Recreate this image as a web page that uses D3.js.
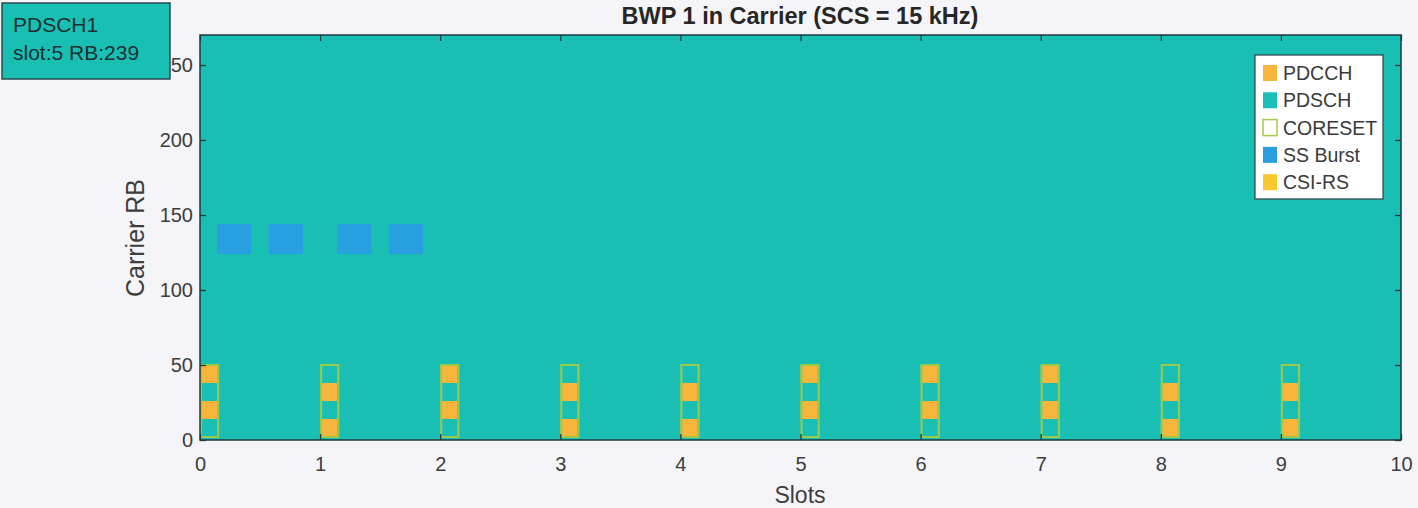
<!DOCTYPE html>
<html>
<head>
<meta charset="utf-8">
<script src="https://cdn.jsdelivr.net/npm/d3@7"></script>
<style>
  html, body { margin: 0; padding: 0; background: #f5f4f8; }
  svg { display: block; }
  text { font-family: "Liberation Sans", Arial, sans-serif; }
</style>
</head>
<body>
<svg id="chart" width="1418" height="508"></svg>
<script>
// ---------------- data ----------------
const slotTicks = [0, 1, 2, 3, 4, 5, 6, 7, 8, 9, 10];
const rbTicks = [0, 50, 100, 150, 200, 250];
const numSlots = 10;
const symbolsPerSlot = 14;
const carrierRB = 270;

// CORESET: first 2 symbols of every slot, RB 2..50
const coresetSlots = [0, 1, 2, 3, 4, 5, 6, 7, 8, 9];
const coresetSymbols = 2;
const coresetRB = [2, 50];

// PDCCH candidates (12 RB each) : slot index, starting RB
const pdcchSlot = [0, 0, 1, 1, 2, 2, 3, 3, 4, 4, 5, 5, 6, 6, 7, 7, 8, 8, 9, 9];
const pdcchRBStart = [14, 38, 2, 26, 14, 38, 2, 26, 2, 26, 14, 38, 14, 38, 14, 38, 2, 26, 2, 26];
const pdcchRBLen = 12;

// SS burst: start symbols (absolute), 4 symbols each, RB 124..144
const ssbStartSymbol = [2, 8, 16, 22];
const ssbSymbols = 4;
const ssbRB = [124, 144];

const legendLabels = ["PDCCH", "PDSCH", "CORESET", "SS Burst", "CSI-RS"];
const legendColors = ["#f7b53b", "#1cbfb5", "#ffffff", "#28a0e0", "#f8c92c"];
const legendStrokes = ["none", "none", "#a6c84c", "none", "none"];

const tooltipLines = ["PDSCH1", "slot:5 RB:239"];
const titleText = "BWP 1 in Carrier (SCS = 15 kHz)";

// ---------------- drawing ----------------
const svg = d3.select("#chart");
const m = { left: 200, right: 1401, top: 35, bottom: 440 };
const teal = "#1abfb4";

const x = d3.scaleLinear().domain([0, numSlots]).range([m.left, m.right]);
const y = d3.scaleLinear().domain([0, carrierRB]).range([m.bottom, m.top]);
const xs = s => x(s / symbolsPerSlot);

// plot background (PDSCH)
svg.append("rect")
  .attr("x", m.left).attr("y", m.top)
  .attr("width", m.right - m.left).attr("height", m.bottom - m.top)
  .attr("fill", teal);

// SS burst
svg.append("g").selectAll("rect").data(ssbStartSymbol).join("rect")
  .attr("x", d => xs(d))
  .attr("width", d => xs(d + ssbSymbols) - xs(d))
  .attr("y", y(ssbRB[1]))
  .attr("height", y(ssbRB[0]) - y(ssbRB[1]))
  .attr("fill", "#28a0e0");

// PDCCH
svg.append("g").selectAll("rect").data(pdcchSlot.map((s, i) => ({ s, rb: pdcchRBStart[i] }))).join("rect")
  .attr("x", d => x(d.s))
  .attr("width", d => xs(d.s * symbolsPerSlot + coresetSymbols) - x(d.s))
  .attr("y", d => y(d.rb + pdcchRBLen))
  .attr("height", d => y(d.rb) - y(d.rb + pdcchRBLen))
  .attr("fill", "#f7b53b");

// CORESET outlines
svg.append("g").selectAll("rect").data(coresetSlots).join("rect")
  .attr("x", d => x(d) + 1)
  .attr("width", d => xs(d * symbolsPerSlot + coresetSymbols) - x(d))
  .attr("y", y(coresetRB[1]))
  .attr("height", y(coresetRB[0]) - y(coresetRB[1]))
  .attr("fill", "none")
  .attr("stroke", "#9bc94a")
  .attr("stroke-width", 2);

// axes with inward ticks
const tickColor = "#22383c";
const labelColor = "#3d3d3d";
function styleAxis(g) {
  g.select(".domain").remove();
  g.selectAll(".tick line").attr("stroke", tickColor).attr("stroke-width", 1.3);
  g.selectAll(".tick text").attr("fill", labelColor).style("font-size", "20px")
    .style("font-family", '"Liberation Sans", Arial, sans-serif');
}
svg.append("g").attr("transform", `translate(0,${m.bottom})`)
  .call(d3.axisBottom(x).tickValues(slotTicks).tickFormat(d3.format("d")).tickSizeInner(-6).tickSizeOuter(0).tickPadding(17))
  .call(styleAxis);
svg.append("g").attr("transform", `translate(${m.left},0)`)
  .call(d3.axisLeft(y).tickValues(rbTicks).tickFormat(d3.format("d")).tickSizeInner(-6).tickSizeOuter(0).tickPadding(7))
  .call(styleAxis);
svg.append("g").attr("transform", `translate(0,${m.top})`)
  .call(d3.axisTop(x).tickValues(slotTicks).tickFormat("").tickSizeInner(-6).tickSizeOuter(0))
  .call(styleAxis);
svg.append("g").attr("transform", `translate(${m.right},0)`)
  .call(d3.axisRight(y).tickValues(rbTicks).tickFormat("").tickSizeInner(-6).tickSizeOuter(0))
  .call(styleAxis);

// plot border
svg.append("rect")
  .attr("x", m.left).attr("y", m.top)
  .attr("width", m.right - m.left).attr("height", m.bottom - m.top)
  .attr("fill", "none").attr("stroke", "#1f3a3e").attr("stroke-width", 1.5);

// title & labels
svg.append("text").attr("x", 800).attr("y", 24)
  .attr("text-anchor", "middle").attr("font-weight", "bold")
  .style("font-size", "23.5px").attr("fill", "#262626").text(titleText);
svg.append("text").attr("x", 800).attr("y", 503)
  .attr("text-anchor", "middle").style("font-size", "23px").attr("fill", labelColor).text("Slots");
svg.append("text")
  .attr("transform", `translate(144,238) rotate(-90)`)
  .attr("text-anchor", "middle").style("font-size", "25px").attr("fill", labelColor).text("Carrier RB");

// legend
const lg = svg.append("g").attr("transform", "translate(1255,55)");
lg.append("rect").attr("width", 128).attr("height", 144)
  .attr("fill", "#ffffff").attr("stroke", "#2b4146").attr("stroke-width", 1.2);
const items = lg.selectAll("g.item").data(legendLabels).join("g")
  .attr("class", "item")
  .attr("transform", (d, i) => `translate(0,${18 + i * 27.3})`);
items.append("rect")
  .attr("x", 8).attr("y", -8).attr("width", 14).attr("height", 16)
  .attr("fill", (d, i) => legendColors[i])
  .attr("stroke", (d, i) => legendStrokes[i])
  .attr("stroke-width", 1.5);
items.append("text").attr("x", 28).attr("y", 7)
  .style("font-size", "19.5px").attr("fill", "#3a3a3a").text(d => d);

// data tip box
const tip = svg.append("g");
tip.append("rect").attr("x", 2).attr("y", 3).attr("width", 168).attr("height", 76)
  .attr("fill", teal).attr("stroke", "#2a4a50").attr("stroke-width", 1.5);
tip.selectAll("text").data(tooltipLines).join("text")
  .attr("x", 13).attr("y", (d, i) => 32 + i * 28)
  .style("font-size", "21px").attr("fill", "#1c3033").text(d => d);
</script>
</body>
</html>
